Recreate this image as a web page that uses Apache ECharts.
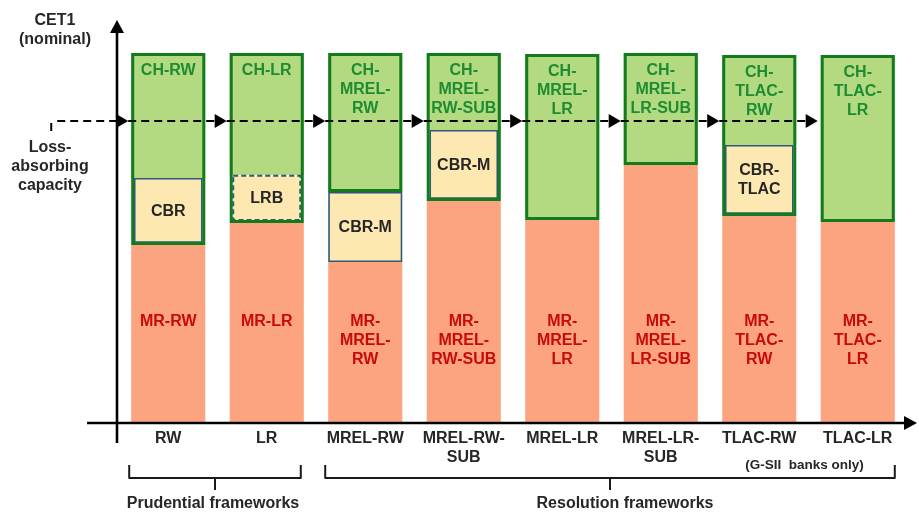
<!DOCTYPE html>
<html>
<head>
<meta charset="utf-8">
<script src="https://cdn.jsdelivr.net/npm/echarts@6/dist/echarts.min.js"></script>
<style>
  html, body { margin: 0; padding: 0; background: #fff; }
  #chart { width: 919px; height: 512px; }
</style>
</head>
<body>
<div id="chart"></div>
<script>
// Capital stack per framework (nominal CET1 units, stacked from the axis up)
const categories = ['RW', 'LR', 'MREL-RW', 'MREL-RW-\nSUB', 'MREL-LR', 'MREL-LR-\nSUB', 'TLAC-RW', 'TLAC-LR'];
const minimumReq = [178, 200, 161, 222, 203, 258, 207, 201];
const bufferReq  = [67, 48, 70, 71, 0, 0, 71, 0];
const headroom   = [125, 122, 139, 77, 166, 112, 90, 167];
const lossAbsorbingLevel = 302;

const mrLabels = ['MR-RW', 'MR-LR', 'MR-\nMREL-\nRW', 'MR-\nMREL-\nRW-SUB', 'MR-\nMREL-\nLR', 'MR-\nMREL-\nLR-SUB', 'MR-\nTLAC-\nRW', 'MR-\nTLAC-\nLR'];
const chLabels = ['CH-RW', 'CH-LR', 'CH-\nMREL-\nRW', 'CH-\nMREL-\nRW-SUB', 'CH-\nMREL-\nLR', 'CH-\nMREL-\nLR-SUB', 'CH-\nTLAC-\nRW', 'CH-\nTLAC-\nLR'];
const bufferLabels = ['CBR', 'LRB', 'CBR-M', 'CBR-M', '', '', 'CBR-\nTLAC', ''];
const bufferDashed = [false, true, false, false, false, false, false, false];
const headroomWrapsBuffer = [true, true, false, true, false, false, true, false];

const FONT = '"Liberation Sans", Arial, sans-serif';
const C = {
  mr: '#fca480', mrText: '#c80a0a',
  ch: '#b3da80', chText: '#1e8c32', chEdge: '#127b1e',
  buf: '#fee8b2', bufEdge: '#2d5a7b',
  ink: '#262626'
};
const BAR_RATIO = 0.752;
const MR_LABEL_TOP = 111;   // value level where MR captions start

function barGeom(api, i, lo, hi) {
  const a = api.coord([i, lo]);
  const b = api.coord([i, hi]);
  const w = api.size([1, 0])[0] * BAR_RATIO;
  return { x: a[0] - w / 2, y: b[1], width: w, height: a[1] - b[1], cx: a[0] };
}
function label(text, x, y, color, va) {
  return {
    type: 'text', z2: 20,
    style: { text, x, y, fill: color, align: 'center', verticalAlign: va,
      fontFamily: FONT, fontWeight: 'bold', fontSize: 16, lineHeight: 19 }
  };
}

const chart = echarts.init(document.getElementById('chart'), null, { renderer: 'canvas' });

const option = {
  animation: false,
  grid: { left: 119, right: 12, top: 20, bottom: 89 },
  xAxis: {
    type: 'category', data: categories,
    axisLine: { show: false }, axisTick: { show: false },
    axisLabel: { interval: 0, margin: 6, color: C.ink, fontFamily: FONT, fontWeight: 'bold', fontSize: 16, lineHeight: 19 }
  },
  yAxis: { type: 'value', min: 0, max: 403, show: false, splitLine: { show: false } },
  series: [
    {
      name: 'Minimum requirement', type: 'custom', z: 1,
      data: categories.map((c, i) => [i, minimumReq[i]]),
      renderItem(params, api) {
        const i = api.value(0);
        const g = barGeom(api, i, 0, api.value(1));
        const ty = api.coord([i, MR_LABEL_TOP])[1];
        return { type: 'group', children: [
          { type: 'rect', shape: { x: g.x, y: g.y, width: g.width, height: g.height }, style: { fill: C.mr } },
          label(mrLabels[i], g.cx, ty, C.mrText, 'top')
        ] };
      }
    },
    {
      name: 'Capital headroom', type: 'custom', z: 2,
      data: categories.map((c, i) => [i, minimumReq[i] + bufferReq[i], minimumReq[i] + bufferReq[i] + headroom[i]]),
      renderItem(params, api) {
        const i = api.value(0);
        const g = barGeom(api, i, api.value(1), api.value(2));
        return { type: 'group', children: [
          { type: 'rect', shape: { x: g.x, y: g.y, width: g.width, height: g.height }, style: { fill: C.ch } },
          label(chLabels[i], g.cx, g.y + 8, C.chText, 'top')
        ] };
      }
    },
    {
      name: 'Buffer requirement', type: 'custom', z: 3,
      data: categories.map((c, i) => [i, minimumReq[i], minimumReq[i] + bufferReq[i]]),
      renderItem(params, api) {
        const i = api.value(0);
        if (bufferReq[i] <= 0) return null;
        const g = barGeom(api, i, api.value(1), api.value(2));
        const side = headroomWrapsBuffer[i] ? 3.5 : 0.8;
        const bottom = headroomWrapsBuffer[i] ? 3 : 0.8;
        const r = { x: g.x + side, y: g.y + 0.8, width: g.width - 2 * side, height: g.height - 0.8 - bottom };
        return { type: 'group', children: [
          { type: 'rect', shape: r, style: { fill: C.buf, stroke: C.bufEdge, lineWidth: bufferDashed[i] ? 2 : 1.6, lineDash: bufferDashed[i] ? [5, 3] : null } },
          label(bufferLabels[i], g.cx, r.y + r.height / 2 + 1, C.ink, 'middle')
        ] };
      }
    },
    {
      name: 'Headroom outline', type: 'custom', z: 4,
      data: categories.map((c, i) => [i,
        headroomWrapsBuffer[i] ? minimumReq[i] : minimumReq[i] + bufferReq[i],
        minimumReq[i] + bufferReq[i] + headroom[i]]),
      renderItem(params, api) {
        const i = api.value(0);
        const g = barGeom(api, i, api.value(1), api.value(2));
        return { type: 'rect', shape: { x: g.x + 1.5, y: g.y + 1.5, width: g.width - 3, height: g.height - 3 },
          style: { fill: null, stroke: C.chEdge, lineWidth: 3 } };
      }
    },
    {
      name: 'Loss-absorbing capacity', type: 'custom', z: 10,
      data: categories.map((c, i) => [i, lossAbsorbingLevel]),
      renderItem(params, api) {
        const i = api.value(0);
        const band = api.size([1, 0])[0];
        const p = api.coord([i, api.value(1)]);
        const tip = p[0] - band * BAR_RATIO / 2 - 3;
        const start = i === 0 ? tip - 71 : tip - band;
        const y = p[1];
        const kids = [
          { type: 'line', shape: { x1: start, y1: y, x2: tip - 11, y2: y }, style: { stroke: '#000', lineWidth: 2.2, lineDash: [8, 5] } },
          { type: 'polygon', shape: { points: [[tip - 12, y - 7], [tip, y], [tip - 12, y + 7]] }, style: { fill: '#000' } }
        ];
        if (i === 0) {
          kids.push({ type: 'line', shape: { x1: start - 6, y1: y + 2, x2: start - 6, y2: y + 10 }, style: { stroke: '#000', lineWidth: 2 } });
        }
        return { type: 'group', children: kids };
      }
    }
  ]
};
chart.setOption(option);

// Axes with arrows, brace annotations and side captions
const baseY = chart.convertToPixel({ yAxisIndex: 0 }, 0);
const topY = chart.convertToPixel({ yAxisIndex: 0 }, 403);
const cx = i => chart.convertToPixel({ xAxisIndex: 0 }, i);
const band = cx(1) - cx(0);
const half = band * BAR_RATIO / 2;
const axisX = cx(0) - band / 2 - 2;
const lossY = chart.convertToPixel({ yAxisIndex: 0 }, lossAbsorbingLevel);

function brace(x1, x2, xm, y) {
  const st = { stroke: '#1a1a1a', lineWidth: 2, fill: null, lineJoin: 'round' };
  return [
    { type: 'polyline', z: 30, shape: { points: [[x1, y - 13], [x1, y], [x2, y], [x2, y - 13]] }, style: st },
    { type: 'line', z: 30, shape: { x1: xm, y1: y, x2: xm, y2: y + 12 }, style: st }
  ];
}
function caption(text, x, y, size) {
  return {
    type: 'text', z: 30,
    style: { text, x, y, fill: C.ink, align: 'center', verticalAlign: 'middle',
      fontFamily: FONT, fontWeight: 'bold', fontSize: size, lineHeight: size + 3 }
  };
}

const braceY = baseY + 55;
const p1 = cx(0) - half - 2, p2 = cx(1) + half - 3;
const r1 = cx(2) - half - 3, r2 = cx(7) + half;

chart.setOption({
  graphic: [
    { type: 'line', z: 30, shape: { x1: axisX, y1: baseY + 20, x2: axisX, y2: topY + 12 }, style: { stroke: '#000', lineWidth: 2.6 } },
    { type: 'polygon', z: 30, shape: { points: [[axisX - 7, topY + 13], [axisX, topY], [axisX + 7, topY + 13]] }, style: { fill: '#000' } },
    { type: 'line', z: 30, shape: { x1: axisX - 30, y1: baseY, x2: 905, y2: baseY }, style: { stroke: '#000', lineWidth: 2.6 } },
    { type: 'polygon', z: 30, shape: { points: [[904, baseY - 7], [917, baseY], [904, baseY + 7]] }, style: { fill: '#000' } },
    ...brace(p1, p2, (p1 + p2) / 2, braceY),
    ...brace(r1, r2, (r1 + r2) / 2, braceY),
    caption('Prudential frameworks', (p1 + p2) / 2 - 2, braceY + 26, 16),
    caption('Resolution frameworks', (r1 + r2) / 2 + 15, braceY + 26, 16),
    caption('(G-SII  banks only)', (cx(6) + cx(7)) / 2 - 4, baseY + 42, 13.5),
    caption('CET1\n(nominal)', 55, 30, 16),
    caption('Loss-\nabsorbing\ncapacity', 50, lossY + 46, 16)
  ]
});
</script>
</body>
</html>
